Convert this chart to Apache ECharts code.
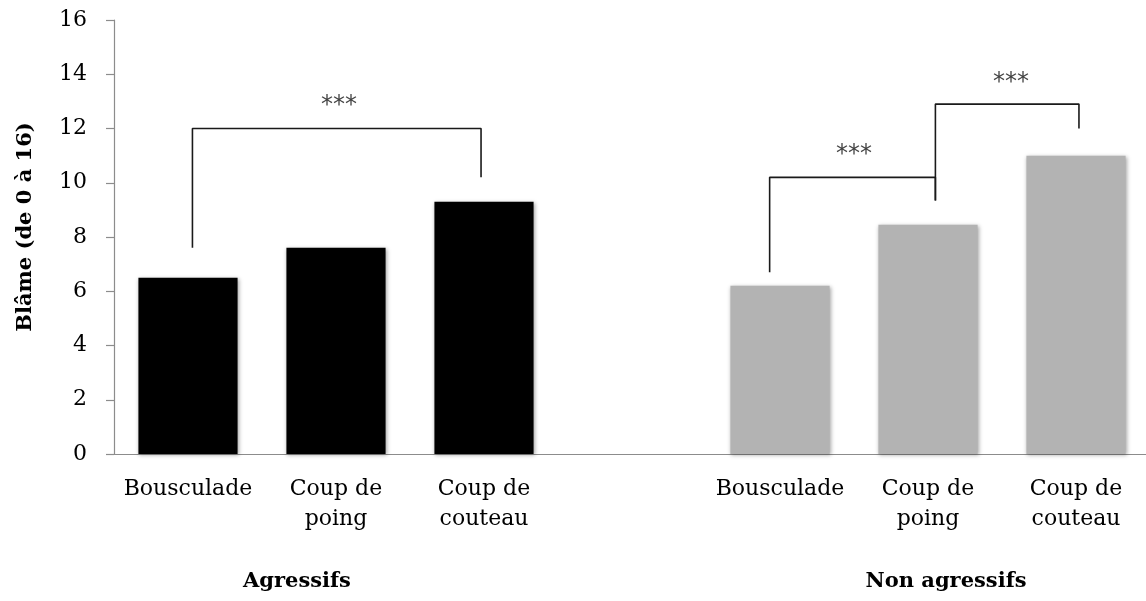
<!DOCTYPE html>
<html>
<head>
<meta charset="utf-8">
<script src="https://cdn.jsdelivr.net/npm/echarts@6/dist/echarts.min.js"></script>
<style>html,body{margin:0;padding:0;background:#fff;}#c{width:1146px;height:601px;}</style>
</head>
<body>
<div id="c"></div>
<script>
const categories = ['Bousculade', 'Coup de\npoing', 'Coup de\ncouteau', '', 'Bousculade', 'Coup de\npoing', 'Coup de\ncouteau'];
const agressifs = [6.5, 7.6, 9.3, '-', '-', '-', '-'];
const nonAgressifs = ['-', '-', '-', '-', 6.2, 8.45, 11.0];
const groupLabels = ['Agressifs', 'Non agressifs'];
const yTitle = 'Blâme (de 0 à 16)';
// significance brackets in (category index, value) coordinates
const bracket1 = [[0.03, 7.6], [0.03, 12.0], [1.98, 12.0], [1.98, 10.2]];
const bracket2 = [[3.93, 6.7], [3.93, 10.2], [5.05, 10.2], [5.05, 9.35]];
const bracket3 = [[5.05, 9.35], [5.05, 12.9], [6.02, 12.9], [6.02, 12.0]];
const stars = [[1.02, 12.85, '***'], [4.5, 11.05, '***'], [5.56, 13.7, '***']];

const serif = 'DejaVu Serif';
const chart = echarts.init(document.getElementById('c'), null, {renderer: 'canvas'});
const bracketSeries = (d) => ({
  type: 'line', xAxisIndex: 1, data: d, symbol: 'none', silent: true,
  lineStyle: {color: '#1a1a1a', width: 1.6}, z: 5, animation: false
});
chart.setOption({
  animation: false,
  backgroundColor: '#fff',
  grid: {left: 114, top: 20, width: 1036, height: 434, outerBoundsMode: 'none', containLabel: false},
  xAxis: [{
    type: 'category', data: categories,
    axisLine: {onZero: false, lineStyle: {color: '#8c8c8c', width: 1.2}},
    axisTick: {show: false},
    axisLabel: {interval: 0, color: '#000', fontFamily: serif, fontSize: 22, lineHeight: 30, margin: 20}
  }, {
    type: 'value', min: -0.5, max: 6.5, show: false
  }],
  yAxis: {
    type: 'value', min: 0, max: 16, interval: 2,
    axisLine: {show: true, onZero: false, lineStyle: {color: '#8c8c8c', width: 1.2}},
    axisTick: {show: true, length: 8, lineStyle: {color: '#8c8c8c', width: 1.2}},
    splitLine: {show: false},
    axisLabel: {color: '#000', fontFamily: serif, fontSize: 22, margin: 27}
  },
  series: [
    {type: 'bar', name: groupLabels[0], data: agressifs, stack: 'g', barWidth: '67%',
     itemStyle: {color: '#000', shadowColor: 'rgba(0,0,0,0.35)', shadowBlur: 4, shadowOffsetX: 1, shadowOffsetY: 1}},
    {type: 'bar', name: groupLabels[1], data: nonAgressifs, stack: 'g', barWidth: '67%',
     itemStyle: {color: '#b3b3b3', shadowColor: 'rgba(0,0,0,0.35)', shadowBlur: 4, shadowOffsetX: 1, shadowOffsetY: 1}},
    bracketSeries(bracket1),
    bracketSeries(bracket2),
    bracketSeries(bracket3),
    {type: 'scatter', xAxisIndex: 1, symbolSize: 0, silent: true,
     data: stars.map(s => ({value: [s[0], s[1]], label: {formatter: s[2]}})),
     label: {show: true, position: 'inside', color: '#111', fontFamily: 'DejaVu Sans', fontSize: 24}}
  ],
  graphic: [
    {type: 'text', x: 297, y: 582, style: {text: groupLabels[0], font: 'bold 21px "DejaVu Serif"', fill: '#000', align: 'center', verticalAlign: 'middle'}},
    {type: 'text', x: 946, y: 582, style: {text: groupLabels[1], font: 'bold 21px "DejaVu Serif"', fill: '#000', align: 'center', verticalAlign: 'middle'}},
    {type: 'text', x: 26, y: 227, rotation: Math.PI / 2, style: {text: yTitle, font: 'bold 21px "DejaVu Serif"', fill: '#000', align: 'center', verticalAlign: 'middle'}}
  ]
});
</script>
</body>
</html>
